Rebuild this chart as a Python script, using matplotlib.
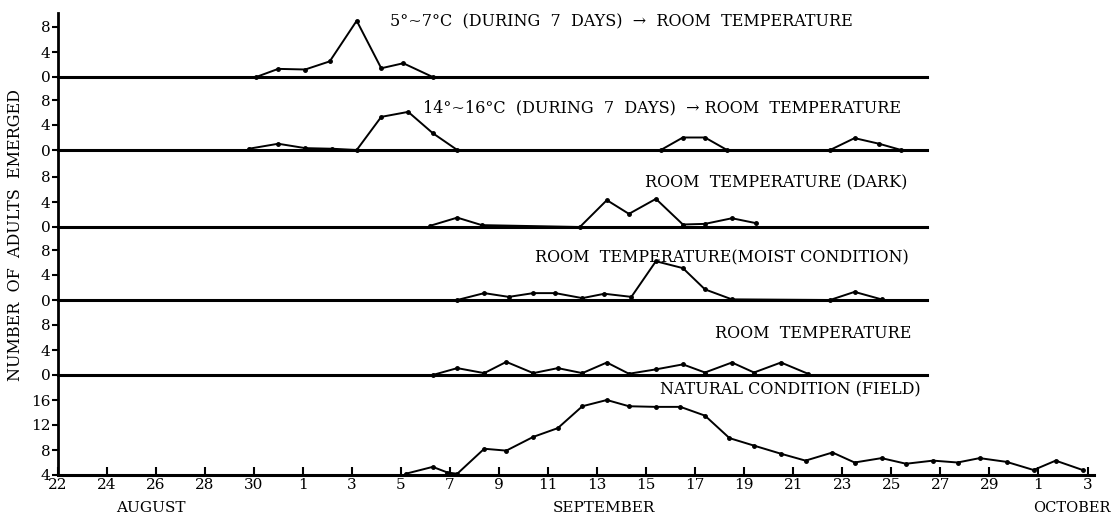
import matplotlib.pyplot as plt

plt.rcParams['font.family'] = ['DejaVu Serif']

# x is days counted from 22 August
day_ticks = list(range(0, 43, 2))
day_labels = ['22', '24', '26', '28', '30', '1', '3', '5', '7', '9', '11', '13', '15',
              '17', '19', '21', '23', '25', '27', '29', '1', '3']

cold_days = [8.1, 9.0, 10.1, 11.1, 12.2, 13.2, 14.1, 15.3]
cold_vals = [0, 1.3, 1.2, 2.5, 9.0, 1.4, 2.2, 0]

cool_days = [7.8, 9.0, 10.1, 11.2, 12.2, 13.2, 14.3, 15.3, 16.3,
             24.6, 25.5, 26.4, 27.3, 31.5, 32.5, 33.5, 34.4]
cool_vals = [0.2, 1.0, 0.3, 0.2, 0, 5.3, 6.1, 2.7, 0,
             0, 2.0, 2.0, 0, 0, 1.9, 1.0, 0]

dark_days = [15.2, 16.3, 17.3, 21.3, 22.4, 23.3, 24.4, 25.5, 26.4, 27.5, 28.5]
dark_vals = [0.2, 1.5, 0.3, 0, 4.3, 2.1, 4.5, 0.4, 0.5, 1.4, 0.6]

moist_days = [16.3, 17.4, 18.4, 19.4, 20.3, 21.4, 22.3, 23.4, 24.4, 25.5, 26.4, 27.5,
              31.5, 32.5, 33.6]
moist_vals = [0, 1.1, 0.5, 1.1, 1.1, 0.3, 1.0, 0.5, 6.2, 5.1, 1.7, 0.1,
              0, 1.3, 0.1]

room_days = [15.3, 16.3, 17.4, 18.3, 19.4, 20.4, 21.4, 22.4, 23.3, 24.4, 25.5, 26.4,
             27.5, 28.4, 29.5, 30.6]
room_vals = [0, 1.1, 0.3, 2.1, 0.3, 1.1, 0.3, 2.0, 0.2, 0.9, 1.7, 0.4,
             2.0, 0.4, 2.0, 0.2]

field_days = [14.2, 15.3, 15.9, 16.3, 17.4, 18.3, 19.4, 20.4, 21.4, 22.4, 23.3, 24.4,
              25.4, 26.4, 27.4, 28.4, 29.5, 30.5, 31.6, 32.5, 33.6, 34.6, 35.7, 36.7,
              37.6, 38.7, 39.8, 40.7, 41.8]
field_vals = [4.2, 5.3, 4.4, 4.2, 8.2, 7.9, 10.1, 11.5, 15.0, 16.0, 15.0, 14.9,
              14.9, 13.5, 9.9, 8.7, 7.4, 6.3, 7.6, 6.0, 6.7, 5.8, 6.3, 6.0,
              6.7, 6.1, 4.8, 6.3, 4.8]

panels = [
    (cold_days, cold_vals, '5°~7°C  (DURING  7  DAYS)  →  ROOM  TEMPERATURE', 23.0, 8.8),
    (cool_days, cool_vals, '14°~16°C  (DURING  7  DAYS)  → ROOM  TEMPERATURE', 24.65, 6.7),
    (dark_days, dark_vals, 'ROOM  TEMPERATURE (DARK)', 29.3, 7.0),
    (moist_days, moist_vals, 'ROOM  TEMPERATURE(MOIST CONDITION)', 27.1, 6.7),
    (room_days, room_vals, 'ROOM  TEMPERATURE', 30.8, 6.7),
    (field_days, field_vals, 'NATURAL CONDITION (FIELD)', 29.9, 17.6),
]

W, H = 1114, 519
px_day = 24.525
px_unit = 6.25
edges = [13, 77, 150, 227, 300, 375, 475]

fig = plt.figure(figsize=(W / 100, H / 100), dpi=100)

for i, (xs, ys, title, tx, ty) in enumerate(panels):
    last = i == len(panels) - 1
    xmax = 42.26 if last else 35.45
    top, bot = edges[i], edges[i + 1]
    ax = fig.add_axes([57.5 / W, 1 - bot / H, xmax * px_day / W, (bot - top) / H])
    y0 = 4 if last else 0
    ax.set_xlim(0, xmax)
    ax.set_ylim(y0, y0 + (bot - top) / px_unit)
    ax.plot(xs, ys, color='black', lw=1.4, marker='o', ms=2.5, clip_on=False)
    ax.text(tx, ty, title, ha='center', va='center', fontsize=11.5)

    for s in ['top', 'right']:
        ax.spines[s].set_visible(False)
    ax.spines['left'].set_linewidth(2)
    ax.spines['bottom'].set_linewidth(2.2)
    ax.set_yticks([4, 8, 12, 16] if last else [0, 4, 8])
    ax.tick_params(axis='y', direction='out', length=4, width=1.5, pad=1, labelsize=11)
    ax.patch.set_visible(False)
    if last:
        ax.set_xticks(day_ticks)
        ax.set_xticklabels(day_labels)
        ax.tick_params(axis='x', direction='in', length=6, width=1.5, pad=2, labelsize=11)
        ax.text(3.8, -1.3, 'AUGUST', ha='center', va='center', fontsize=11)
        ax.text(22.3, -1.3, 'SEPTEMBER', ha='center', va='center', fontsize=11)
        ax.text(42.95, -1.3, 'OCTOBER', ha='right', va='center', fontsize=10.5)
    else:
        ax.set_xticks([])

fig.text(16 / W, 1 - 235 / H, 'NUMBER  OF  ADULTS  EMERGED', rotation=90,
         ha='center', va='center', fontsize=11.5)

plt.savefig('out.png', dpi=100)
